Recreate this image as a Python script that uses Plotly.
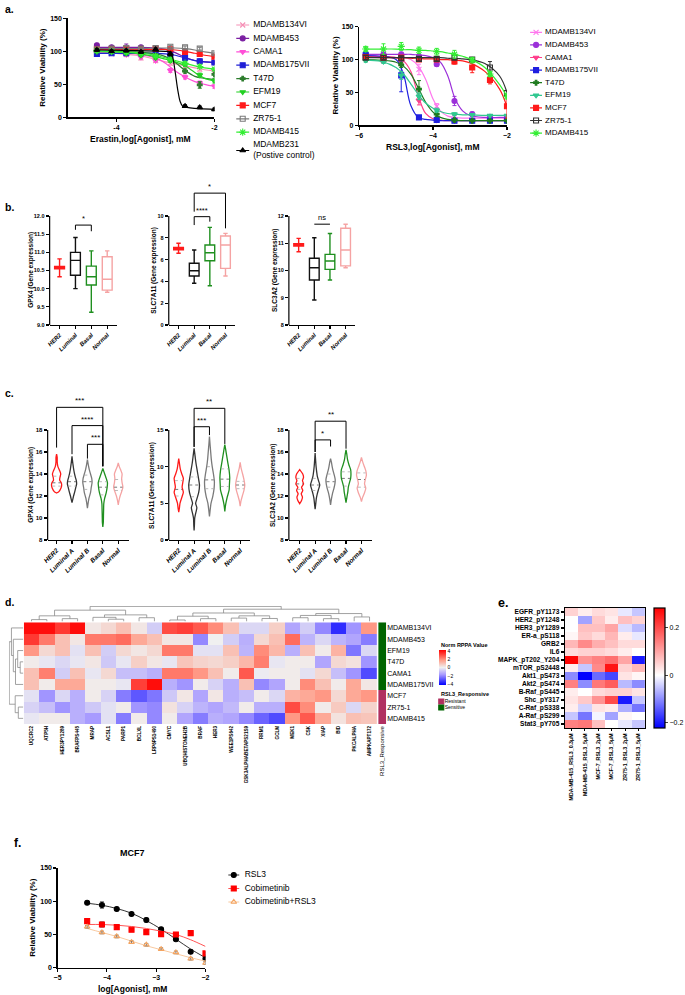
import plotly.graph_objects as go
import numpy as np

# ======================= DATA =======================
# ---- Panel a (left): Erastin ----
ERA_NAMES = ["MDAMB134VI", "MDAMB453", "CAMA1", "MDAMB175VII", "T47D", "EFM19",
             "MCF7", "ZR75-1", "MDAMB415", "MDAMB231"]
ERA_X = [-4.4, -4.1, -3.8, -3.5, -3.2, -2.9, -2.6, -2.3, -2.0]
era_MDAMB134VI = [98, 96, 95, 90, 86, 82, 78, 73, 70]
era_MDAMB453 = [109, 106, 105, 106, 104, 99, 89, 85, 83]
era_CAMA1 = [100, 98, 95, 91, 86, 71, 61, 52, 47]
era_MDAMB175VII = [96, 97, 97, 97, 97, 95, 90, 85, 83]
era_T47D = [100, 100, 98, 96, 93, 88, 70, 49, 65]
era_EFM19 = [100, 99, 97, 94, 90, 86, 80, 64, 55]
era_MCF7 = [103, 103, 104, 103, 104, 103, 99, 96, 92]
era_ZR751 = [103, 104, 105, 104, 105, 107, 106, 104, 97]
era_MDAMB415 = [101, 100, 99, 97, 93, 88, 82, 77, 73]
era_MDAMB231 = [102, 100, 101, 99, 103, 96, 17, 15, 12]
era_err_MDAMB134VI = [3, 2, 2, 3, 2, 3, 3, 3, 3]
era_err_MDAMB453 = [3, 2, 6, 2, 2, 2, 2, 2, 2]
era_err_CAMA1 = [2, 2, 2, 2, 2, 3, 3, 3, 3]
era_err_MDAMB175VII = [2, 2, 2, 2, 2, 2, 2, 2, 2]
era_err_T47D = [2, 2, 2, 2, 2, 3, 3, 5, 6]
era_err_EFM19 = [2, 2, 2, 2, 2, 3, 3, 3, 3]
era_err_MCF7 = [2, 2, 2, 2, 2, 2, 2, 2, 2]
era_err_ZR751 = [2, 2, 2, 2, 2, 2, 2, 2, 2]
era_err_MDAMB415 = [2, 2, 2, 2, 2, 2, 2, 2, 2]
era_err_MDAMB231 = [2, 2, 2, 2, 2, 3, 2, 2, 2]
# fitted curves
ERA_FIT_X = [-4.4, -4.0, -3.6, -3.2, -3.0, -2.8, -2.6, -2.4, -2.2, -2.0]
era_fit_MDAMB134VI = [98, 97, 94, 88, 84, 81, 78, 75, 72, 70]
era_fit_MDAMB453 = [106, 106, 106, 105, 103, 98, 91, 86, 84, 83]
era_fit_CAMA1 = [99, 98, 96, 90, 82, 70, 61, 54, 50, 47]
era_fit_MDAMB175VII = [97, 97, 97, 97, 96, 94, 90, 86, 84, 83]
era_fit_T47D = [100, 100, 99, 96, 92, 83, 71, 62, 59, 57]
era_fit_EFM19 = [100, 99, 97, 92, 88, 84, 78, 68, 59, 55]
era_fit_MCF7 = [103, 103, 103, 103, 103, 102, 100, 97, 94, 92]
era_fit_ZR751 = [104, 104, 104, 105, 105, 105, 104, 102, 99, 97]
era_fit_MDAMB415 = [100, 99, 98, 94, 90, 86, 82, 78, 75, 73]
MDAMB231_FIT_X = [-4.4, -3.6, -3.0, -2.9, -2.85, -2.8, -2.75, -2.7, -2.65, -2.6, -2.3, -2.0]
MDAMB231_FIT_Y = [102, 101, 100, 99, 90, 68, 42, 24, 17, 15.5, 13, 12]

# ---- Panel a (right): RSL3 ----
RSL_NAMES = ["MDAMB134VI", "MDAMB453", "CAMA1", "MDAMB175VII", "T47D", "EFM19",
             "MCF7", "ZR75-1", "MDAMB415"]
RSL_X = [-5.82, -5.34, -4.86, -4.38, -3.9, -3.42, -2.94, -2.46, -2.0]
rsl_MDAMB134VI = [104, 99, 104, 85, 29, 13, 12, 11, 11]
rsl_MDAMB453 = [108, 108, 108, 105, 93, 37, 17, 13, 12]
rsl_CAMA1 = [105, 104, 97, 38, 8, 7, 7, 7, 8]
rsl_MDAMB175VII = [107, 103, 76, 12, 8, 7, 7, 7, 7]
rsl_T47D = [100, 98, 92, 55, 17, 8, 7, 7, 7]
rsl_EFM19 = [99, 97, 76, 44, 23, 17, 16, 15, 15]
rsl_MCF7 = [104, 103, 103, 100, 100, 97, 88, 69, 29]
rsl_ZR751 = [103, 103, 102, 101, 101, 103, 100, 88, 49]
rsl_MDAMB415 = [116, 116, 120, 114, 112, 108, 99, 78, 44]
rsl_err_MDAMB134VI = [3, 4, 5, 8, 4, 2, 2, 1, 1]
rsl_err_MDAMB453 = [3, 3, 3, 3, 3, 7, 3, 2, 2]
rsl_err_CAMA1 = [3, 3, 3, 7, 1, 1, 1, 1, 1]
rsl_err_MDAMB175VII = [5, 4, 25, 2, 1, 1, 1, 1, 1]
rsl_err_T47D = [3, 3, 4, 13, 4, 1, 1, 1, 1]
rsl_err_EFM19 = [3, 3, 6, 5, 3, 2, 1, 1, 1]
rsl_err_MCF7 = [3, 3, 3, 3, 3, 4, 8, 6, 18]
rsl_err_ZR751 = [3, 3, 3, 3, 3, 3, 3, 9, 4]
rsl_err_MDAMB415 = [4, 8, 6, 5, 5, 6, 4, 4, 4]
RSL_FIT_X = [-5.82, -5.4, -5.0, -4.8, -4.6, -4.4, -4.2, -4.0, -3.8, -3.6, -3.4, -3.2, -3.0, -2.6, -2.2, -2.0]
rsl_fit_MDAMB134VI = [104, 104, 103, 103, 100, 90, 70, 40, 22, 14, 12, 11, 11, 11, 11, 11]
rsl_fit_MDAMB453 = [108, 108, 108, 108, 108, 107, 106, 103, 96, 75, 40, 22, 15, 12, 12, 12]
rsl_fit_CAMA1 = [105, 105, 103, 98, 82, 45, 18, 10, 8, 7, 7, 7, 7, 7, 7, 8]
rsl_fit_MDAMB175VII = [106, 105, 100, 78, 30, 12, 9, 8, 7, 7, 7, 7, 7, 7, 7, 7]
rsl_fit_T47D = [100, 99, 96, 90, 78, 57, 35, 20, 12, 9, 8, 7, 7, 7, 7, 7]
rsl_fit_EFM19 = [99, 97, 88, 78, 63, 47, 34, 26, 21, 18, 17, 16, 16, 15, 15, 15]
rsl_fit_MCF7 = [104, 103, 103, 103, 102, 102, 101, 101, 100, 100, 99, 98, 95, 82, 55, 28]
rsl_fit_ZR751 = [103, 103, 103, 103, 103, 103, 103, 103, 103, 102, 102, 101, 100, 94, 75, 50]
rsl_fit_MDAMB415 = [116, 116, 116, 115, 115, 114, 114, 113, 112, 110, 108, 105, 101, 88, 62, 44]

# ---- Panel b: box plots (min, q1, median, q3, max) ----
B_CATS = ["HER2", "Luminal", "Basal", "Normal"]
b_GPX4 = [[10.33, 10.55, 10.58, 10.61, 10.82], [10.0, 10.37, 10.78, 11.0, 11.41],
          [9.35, 10.1, 10.33, 10.62, 11.04], [9.9, 9.96, 10.26, 10.88, 11.04]]
b_SLC7A11 = [[6.58, 6.9, 7.03, 7.12, 7.5], [3.83, 4.5, 4.98, 5.66, 6.88],
             [3.6, 5.9, 6.63, 7.34, 8.96], [4.5, 5.2, 7.34, 8.16, 8.41]]
b_SLC3A2 = [[10.69, 10.9, 10.94, 10.98, 11.18], [8.92, 9.65, 10.1, 10.45, 11.2],
            [9.65, 10.04, 10.35, 10.59, 11.36], [10.1, 10.17, 10.75, 11.55, 11.7]]
# brackets: (left cat, right cat, bar y, left leg end, right leg end, label)
b_GPX4_sig = [(1, 2, 11.75, 11.62, 11.58, "*")]
b_SLC7A11_sig = [(1, 2, 9.94, 9.17, 9.48, "****"), (1, 3, 12.1, 10.4, 8.87, "*")]
b_SLC3A2_sig = [(1, 2, 11.7, 11.7, 11.7, "ns")]

# ---- Panel c: violin outlines (y levels, half-widths in category units) ----
C_CATS = ["HER2", "Luminal A", "Luminal B", "Basal", "Normal"]
c_GPX4_y = [[12.27, 12.4, 12.7, 13.0, 13.2, 13.45, 13.7, 14.0, 14.3, 14.7, 15.1, 15.5, 15.8],
            [11.4, 11.7, 12.0, 12.4, 12.8, 13.1, 13.4, 13.7, 14.1, 14.5, 15.0, 15.6],
            [10.9, 11.3, 11.8, 12.3, 12.8, 13.2, 13.6, 14.0, 14.4, 14.8, 15.3],
            [9.2, 9.6, 10.2, 10.8, 11.3, 11.8, 12.3, 12.8, 13.2, 13.6, 14.0, 14.5],
            [11.2, 11.6, 12.0, 12.4, 12.8, 13.2, 13.6, 14.0, 14.4, 14.7, 15.0]]
c_GPX4_w = [[0, 0.15, 0.28, 0.33, 0.3, 0.2, 0.22, 0.27, 0.2, 0.08, 0.04, 0.04, 0],
            [0, 0.05, 0.1, 0.18, 0.25, 0.3, 0.28, 0.22, 0.15, 0.1, 0.05, 0],
            [0, 0.04, 0.1, 0.2, 0.25, 0.3, 0.28, 0.2, 0.12, 0.06, 0],
            [0, 0.03, 0.04, 0.05, 0.06, 0.12, 0.22, 0.28, 0.3, 0.22, 0.12, 0],
            [0, 0.05, 0.12, 0.22, 0.3, 0.25, 0.22, 0.25, 0.15, 0.06, 0]]
c_GPX4_q = [[12.9, 13.2, 13.8], [12.9, 13.3, 13.8], [12.6, 13.3, 13.9], [12.1, 12.8, 13.3], [12.5, 12.8, 13.5]]
c_SLC7A11_y = [[3.8, 4.3, 5.0, 5.8, 6.5, 7.2, 7.8, 8.4, 9.0, 9.7, 10.4, 11.1],
               [1.3, 2.0, 3.0, 3.8, 4.4, 5.0, 5.6, 6.5, 7.5, 8.5, 9.5, 10.5, 11.5, 12.5],
               [3.2, 4.0, 5.0, 6.0, 7.0, 8.0, 9.0, 10.0, 11.0, 12.0, 13.0, 14.1],
               [3.9, 4.8, 5.8, 6.8, 7.6, 8.5, 9.5, 10.5, 11.5, 12.3, 13.0],
               [4.6, 5.3, 6.0, 6.8, 7.5, 8.2, 9.0, 9.8, 10.6]]
c_SLC7A11_w = [[0, 0.04, 0.08, 0.2, 0.3, 0.22, 0.26, 0.3, 0.2, 0.1, 0.05, 0],
               [0, 0.02, 0.04, 0.12, 0.18, 0.1, 0.18, 0.3, 0.35, 0.28, 0.2, 0.12, 0.06, 0],
               [0, 0.04, 0.1, 0.22, 0.3, 0.32, 0.26, 0.18, 0.12, 0.08, 0.04, 0],
               [0, 0.05, 0.15, 0.28, 0.3, 0.32, 0.28, 0.2, 0.12, 0.06, 0],
               [0, 0.05, 0.14, 0.25, 0.3, 0.25, 0.16, 0.06, 0]]
c_SLC7A11_q = [[6.0, 6.9, 8.1], [5.9, 7.5, 8.6], [7.0, 8.2, 10.0], [7.3, 8.3, 9.7], [7.0, 7.5, 8.0]]
c_SLC3A2_y = [[11.3, 11.6, 11.9, 12.2, 12.5, 12.8, 13.1, 13.4, 13.7, 14.0, 14.4],
              [10.8, 11.3, 11.8, 12.2, 12.6, 13.0, 13.4, 13.8, 14.2, 14.7, 15.3, 15.9],
              [11.2, 11.7, 12.2, 12.7, 13.1, 13.5, 13.9, 14.3, 14.7, 15.1, 15.4],
              [11.4, 11.9, 12.4, 12.8, 13.2, 13.6, 14.0, 14.4, 14.8, 15.3, 15.8, 16.2],
              [11.5, 11.9, 12.3, 12.7, 13.1, 13.5, 13.9, 14.3, 14.7, 15.1, 15.5]]
c_SLC3A2_w = [[0, 0.12, 0.18, 0.1, 0.2, 0.12, 0.25, 0.18, 0.25, 0.2, 0],
              [0, 0.04, 0.08, 0.14, 0.22, 0.3, 0.22, 0.14, 0.1, 0.06, 0.03, 0],
              [0, 0.05, 0.12, 0.22, 0.28, 0.3, 0.24, 0.16, 0.1, 0.05, 0],
              [0, 0.06, 0.12, 0.15, 0.22, 0.3, 0.32, 0.3, 0.2, 0.1, 0.05, 0],
              [0, 0.08, 0.2, 0.28, 0.2, 0.25, 0.32, 0.28, 0.18, 0.08, 0]]
c_SLC3A2_q = [[12.6, 13.1, 13.6], [12.5, 13.0, 13.6], [12.8, 13.3, 14.0], [12.9, 13.6, 14.2], [12.8, 13.5, 14.1]]
c_GPX4_sig = [(0, 3, 20.06, 16.4, 14.7, "***"), (1, 3, 18.4, 15.8, 14.7, "****"), (2, 3, 16.7, 15.4, 14.7, "***")]
c_SLC7A11_sig = [(1, 3, 17.96, 12.7, 13.1, "**"), (1, 2, 15.45, 12.7, 14.3, "***")]
c_SLC3A2_sig = [(1, 3, 18.8, 16.0, 16.3, "**"), (1, 2, 17.1, 16.0, 16.5, "*")]

# ---- Panel d: RPPA heatmap ----
D_COLS = ["UQCRC2", "ATP5H", "HER3PY1289", "BRAFPS445", "MRAP", "ACSL1", "PARP1", "BCLXL",
          "LRP6PS1490", "CMYC", "UBQHISTONEH2B", "BRAF", "HER3", "WEE1PS642",
          "GSK3ALPHABETAPS21S9", "RRM1", "GCLM", "MEK1", "CSK", "XIAP", "BID", "PKCALPHA", "AMPKAPT172"]
D_ROWS = ["MDAMB134VI", "MDAMB453", "EFM19", "T47D", "CAMA1", "MDAMB175VII", "MCF7", "ZR75-1", "MDAMB415"]
d_MDAMB134VI = [4, 4, 3.3, 4, 0.2, 0.5, 1, 0.2, -0.7, 3, 3.2, 2.8, 2, 1, -0.5, -0.5, 0.7, -1.5, -0.7, -2, -3.5, -1.8, 1.8]
d_MDAMB453 = [3.3, 2.3, 1, 0.2, 2.3, 2.3, 2.5, 1.5, 1, 0.2, 0.2, -2, 0, -0.7, -1.3, 0.5, 1, 2.5, -1.2, -0.5, -1.2, -1.5, -2.2]
d_EFM19 = [1.8, 0.5, 1, -0.3, 1, -0.7, 0.5, 0.2, 0.5, 2.3, 2.3, -0.3, -0.3, 1, -1.2, 2, 1.2, -1.3, 1, 0.1, 1.3, -2.3, -0.5]
d_T47D = [0.1, -0.2, -0.5, -0.2, 0.2, -0.8, -0.2, 0.7, 0.2, -0.2, 0.9, 0.6, 0.5, 0.7, 1.2, 2.2, -0.2, 0.1, 0.1, -1.5, 0.5, 0.3, -1.8]
d_CAMA1 = [1, 2.2, -0.7, 1, -0.2, 0.5, -1, -1, -1.3, 2.3, 2.3, 1.8, 1, 0.1, 2.8, -0.1, 0.1, 0.1, -0.3, 0.5, -1, -1.8, -3]
d_MDAMB175VII = [1, 0.1, 1.5, 1.5, 0.1, 0.1, -0.2, 3.2, 4, -1.3, -1.8, 0.1, -0.6, -1.3, 1, -2, -1.5, 0.1, 2, 1, 0.1, 1.5, 0.2]
d_MCF7 = [-0.3, -1.8, -0.5, -1.3, 0.1, -0.6, -2.2, -2.8, -2.3, -0.8, 0.2, -1.5, 0.2, -1.3, -1, 0.1, -0.5, 1.3, 1.5, 1.8, 0.5, 1.5, 1.8]
d_ZR751 = [-0.6, -1, -1.8, -1.3, -0.8, -0.3, 0.1, -1.8, -2, 0.3, -0.6, -1.2, -1.5, -1.1, 0.1, -1.3, -1.3, 3, 2, 0.1, 0.8, -0.5, 0.6]
d_MDAMB415 = [-0.2, 0.1, 0.1, -1.3, -1.7, -0.3, -2.2, 0.1, -2, 0.1, -1.5, -2.2, -1.3, -1.5, -2, -2.6, -3, 1.8, 2.8, 1.5, 0.3, 1, 0.9]
D_RESPONSIVE = ["Sensitive"] * 6 + ["Resistant"] * 3
# hierarchical clustering merges: (child a, child b, height)
D_COL_MERGES = [(0, 1, 1.0), (2, 3, 1.5), (23, 24, 3.0), (5, 6, 1.2), (4, 26, 2.2), (7, 8, 2.0),
                (27, 28, 3.5), (25, 29, 6.0), (9, 10, 0.8), (11, 12, 1.5), (31, 32, 2.8),
                (13, 14, 1.8), (15, 16, 1.6), (34, 35, 3.0), (33, 36, 4.5), (17, 18, 2.0),
                (19, 20, 1.5), (38, 39, 3.2), (21, 22, 2.4), (40, 41, 4.2), (37, 42, 6.5), (30, 43, 8.0)]
D_ROW_MERGES = [(3, 4, 1.0), (2, 9, 1.8), (10, 5, 2.5), (1, 11, 3.2), (0, 12, 3.8),
                (7, 8, 1.6), (6, 14, 2.6), (13, 15, 4.5)]

# ---- Panel e: phospho-protein heatmap ----
E_ROWS = ["EGFR_pY1173", "HER2_pY1248", "HER3_pY1289", "ER-a_pS118", "GRB2", "IL6",
          "MAPK_pT202_Y204", "mTOR_pS2448", "Akt1_pS473", "Akt2_pS474", "B-Raf_pS445",
          "Shc_pY317", "C-Raf_pS338", "A-Raf_pS299", "Stat3_pY705"]
E_COLS = ["MDA-MB-415_RSL3_0.3μM", "MDA-MB-415_RSL3_5μM", "MCF-7_RSL3_2μM",
          "MCF-7_RSL3_5μM", "ZR75-1_RSL3_2μM", "ZR75-1_RSL3_5μM"]
e_EGFR = [0.05, 0.02, 0.04, 0.03, -0.02, -0.05]
e_HER2 = [0.0, -0.08, 0.06, 0.02, 0.07, 0.05]
e_HER3 = [0.0, 0.07, 0.07, 0.1, -0.03, -0.06]
e_ERa = [0.01, 0.06, 0.04, 0.08, 0.02, -0.02]
e_GRB2 = [0.08, 0.13, 0.09, 0.07, 0.04, 0.04]
e_IL6 = [0.04, 0.05, 0.05, 0.04, 0.02, 0.0]
e_MAPK = [0.28, 0.12, 0.14, 0.16, 0.1, -0.2]
e_mTOR = [0.02, -0.05, 0.13, 0.26, 0.05, 0.08]
e_Akt1 = [-0.1, -0.22, -0.13, -0.16, 0.03, 0.01]
e_Akt2 = [0.14, -0.1, 0.15, 0.18, -0.06, -0.1]
e_BRaf = [0.02, 0.0, 0.04, 0.05, 0.05, 0.03]
e_Shc = [0.03, 0.06, 0.12, 0.2, -0.2, -0.05]
e_CRaf = [0.02, -0.04, 0.03, 0.02, -0.07, -0.12]
e_ARaf = [-0.05, -0.12, -0.01, -0.08, 0.01, 0.0]
e_Stat3 = [0.14, 0.15, 0.07, 0.0, -0.02, -0.05]

# ---- Panel f: MCF7 ----
F_NAMES = ["RSL3", "Cobimetinib", "Cobimetinib+RSL3"]
F_X = [-4.4, -4.1, -3.8, -3.5, -3.2, -2.9, -2.6, -2.3, -2.0]
f_RSL3 = [97.7, 94.3, 88.3, 80.8, 71.8, 57.7, 42.7, 24, 13.5]
f_Cobi = [70, 65, 61, 57, 53.5, 50.5, 50, 52, 21.5]
f_Combo = [61.5, 53, 47, 38.5, 34.5, 28, 23, 13.5, 7]
f_err_RSL3 = [2, 5, 2, 2, 3, 2, 2, 2, 2]
f_err_Cobi = [2, 4, 3, 2, 2, 3, 3, 2, 2]
f_err_Combo = [2, 2, 2, 2, 2, 2, 2, 2, 2]
f_fit_RSL3 = [97, 94, 89, 82, 71, 58, 43, 28, 15]
f_fit_Cobi = [65, 65, 64, 62, 59, 55, 50, 42, 32]
f_fit_Combo = [59, 53, 47, 40, 33, 27, 21, 15, 10]

# ======================= FIGURE =======================
W, H = 685, 995
FONT = "Liberation Sans, Arial, sans-serif"


def PX(x):
    return x / W


def PY(y):
    return 1 - y / H


fig = go.Figure()
L = dict(width=W, height=H, margin=dict(l=0, r=0, t=0, b=0, pad=0), template="none",
         paper_bgcolor="white", plot_bgcolor="rgba(0,0,0,0)", showlegend=False,
         font=dict(family=FONT, color="black", size=8))
annotations = []
shapes = []
axn = [0]


def F(size, bold=True, italic=False, color="black"):
    return dict(family=FONT, size=size, color=color, weight="bold" if bold else "normal",
                style="italic" if italic else "normal")


def new_axes(xpx, ypx, xkw, ykw):
    axn[0] += 1
    n = axn[0]
    s = "" if n == 1 else str(n)
    L["xaxis" + s] = dict(domain=[PX(xpx[0]), PX(xpx[1])], anchor="y" + s, **xkw)
    L["yaxis" + s] = dict(domain=[PY(ypx[1]), PY(ypx[0])], anchor="x" + s, **ykw)
    return "x" + s, "y" + s


def axstyle(size=7, **kw):
    d = dict(showline=True, linecolor="black", linewidth=1.2, ticks="outside", ticklen=3,
             tickwidth=1.1, tickcolor="black", showgrid=False, zeroline=False,
             tickfont=F(size), fixedrange=True)
    d.update(kw)
    return d


def hidden(**kw):
    d = dict(visible=False, showgrid=False, zeroline=False, fixedrange=True)
    d.update(kw)
    return d


def ann(text, x, y, size, bold=True, xanchor="center", yanchor="middle", angle=0,
        italic=False, xref="paper", yref="paper", color="black"):
    if xref == "paper":
        x = PX(x)
    if yref == "paper":
        y = PY(y)
    annotations.append(dict(text=text, x=x, y=y, xref=xref, yref=yref, showarrow=False,
                            xanchor=xanchor, yanchor=yanchor, textangle=angle,
                            font=F(size, bold, italic, color)))


def mk(symbol, color, size=5):
    return dict(symbol=symbol, color=color, size=size, line=dict(color=color, width=1.1))


def legend_block(box, labels, ys, styles, lx, mx, tx, size):
    xa, ya = new_axes((box[0], box[1]), (box[2], box[3]),
                      hidden(range=[box[0], box[1]]), hidden(range=[box[3], box[2]]))
    for lab, yy, (col, sym, lcol, msz) in zip(labels, ys, styles):
        fig.add_trace(go.Scatter(x=[lx[0], lx[1]], y=[yy, yy], mode="lines",
                                 line=dict(color=lcol, width=1.2), xaxis=xa, yaxis=ya,
                                 hoverinfo="skip"))
        fig.add_trace(go.Scatter(x=[mx], y=[yy], mode="markers", marker=mk(sym, col, msz),
                                 xaxis=xa, yaxis=ya, hoverinfo="skip"))
        fig.add_trace(go.Scatter(x=[tx], y=[yy], mode="text", text=[lab],
                                 textposition="middle right", textfont=F(size, False),
                                 cliponaxis=False, xaxis=xa, yaxis=ya, hoverinfo="skip"))


# ---------------- Panel a ----------------
ann("a.", 3, 9, 10.5, xanchor="left")

ERA_STYLE = {
    "MDAMB134VI": ("#f58fb5", "x-thin", 5), "MDAMB453": ("#7b1fa2", "circle", 5),
    "CAMA1": ("#ff4fd8", "triangle-down", 5), "MDAMB175VII": ("#1f1fd6", "square", 5),
    "T47D": ("#2e7d2e", "cross", 4), "EFM19": ("#22d022", "triangle-down", 5),
    "MCF7": ("#ff1a1a", "square", 5), "ZR75-1": ("#7a7a7a", "square-open", 5),
    "MDAMB415": ("#33ee33", "asterisk", 6), "MDAMB231": ("#000000", "triangle-up", 5)}
era_points = [era_MDAMB134VI, era_MDAMB453, era_CAMA1, era_MDAMB175VII, era_T47D, era_EFM19,
              era_MCF7, era_ZR751, era_MDAMB415, era_MDAMB231]
era_errs = [era_err_MDAMB134VI, era_err_MDAMB453, era_err_CAMA1, era_err_MDAMB175VII, era_err_T47D,
            era_err_EFM19, era_err_MCF7, era_err_ZR751, era_err_MDAMB415, era_err_MDAMB231]
era_fits = [(ERA_FIT_X, era_fit_MDAMB134VI), (ERA_FIT_X, era_fit_MDAMB453), (ERA_FIT_X, era_fit_CAMA1),
            (ERA_FIT_X, era_fit_MDAMB175VII), (ERA_FIT_X, era_fit_T47D), (ERA_FIT_X, era_fit_EFM19),
            (ERA_FIT_X, era_fit_MCF7), (ERA_FIT_X, era_fit_ZR751), (ERA_FIT_X, era_fit_MDAMB415),
            (MDAMB231_FIT_X, MDAMB231_FIT_Y)]

xa, ya = new_axes((68, 216), (18.3, 117.3),
                  axstyle(range=[-5, -2], tickvals=[-4, -2], ticktext=["-4", "-2"]),
                  axstyle(range=[0, 150], tickvals=[0, 50, 100, 150]))
for name, pts, err, (fx, fy) in zip(ERA_NAMES, era_points, era_errs, era_fits):
    col, sym, sz = ERA_STYLE[name]
    fig.add_trace(go.Scatter(x=fx, y=fy, mode="lines", line=dict(color=col, width=1.2, shape="spline"),
                             xaxis=xa, yaxis=ya, hoverinfo="skip"))
    fig.add_trace(go.Scatter(x=ERA_X, y=pts, mode="markers", marker=mk(sym, col, sz),
                             error_y=dict(type="data", array=err, color=col, thickness=1, width=2),
                             xaxis=xa, yaxis=ya, name=name))
ann("Relative Viability (%)", 42, 68, 8, angle=-90)
ann("Erastin,log[Agonist], mM", 142, 139, 8.5)

era_leg_labels = ERA_NAMES[:-1] + ["MDAMB231<br>(Postive control)"]
era_leg_y = [25, 38.4, 51.8, 65.2, 78.6, 92, 105.4, 118.8, 132.2, 150.5]
legend_block((230, 340, 15, 165), era_leg_labels, era_leg_y,
             [(ERA_STYLE[n][0], ERA_STYLE[n][1], ERA_STYLE[n][0], ERA_STYLE[n][2]) for n in ERA_NAMES],
             (238, 251), 244.5, 255, 8.5)

RSL_STYLE = {
    "MDAMB134VI": ("#ff77ee", "x-thin", 5), "MDAMB453": ("#9b30d9", "circle", 5),
    "CAMA1": ("#ff3d8b", "triangle-down", 5), "MDAMB175VII": ("#1f1fe0", "square", 5),
    "T47D": ("#1e7a1e", "cross", 4), "EFM19": ("#30c890", "triangle-down", 5),
    "MCF7": ("#ff1a1a", "square", 5), "ZR75-1": ("#333333", "square-open", 5),
    "MDAMB415": ("#33ee33", "asterisk", 6)}
rsl_points = [rsl_MDAMB134VI, rsl_MDAMB453, rsl_CAMA1, rsl_MDAMB175VII, rsl_T47D, rsl_EFM19,
              rsl_MCF7, rsl_ZR751, rsl_MDAMB415]
rsl_errs = [rsl_err_MDAMB134VI, rsl_err_MDAMB453, rsl_err_CAMA1, rsl_err_MDAMB175VII, rsl_err_T47D,
            rsl_err_EFM19, rsl_err_MCF7, rsl_err_ZR751, rsl_err_MDAMB415]
rsl_fits = [rsl_fit_MDAMB134VI, rsl_fit_MDAMB453, rsl_fit_CAMA1, rsl_fit_MDAMB175VII, rsl_fit_T47D,
            rsl_fit_EFM19, rsl_fit_MCF7, rsl_fit_ZR751, rsl_fit_MDAMB415]
xa, ya = new_axes((361.7, 510.7), (26.7, 125.3),
                  axstyle(range=[-6, -2], tickvals=[-6, -4, -2]),
                  axstyle(range=[0, 150], tickvals=[0, 50, 100, 150]))
for name, pts, err, fy in zip(RSL_NAMES, rsl_points, rsl_errs, rsl_fits):
    col, sym, sz = RSL_STYLE[name]
    fig.add_trace(go.Scatter(x=RSL_FIT_X, y=fy, mode="lines", line=dict(color=col, width=1.2, shape="spline"),
                             xaxis=xa, yaxis=ya, hoverinfo="skip"))
    fig.add_trace(go.Scatter(x=RSL_X, y=pts, mode="markers", marker=mk(sym, col, sz),
                             error_y=dict(type="data", array=err, color=col, thickness=1, width=2),
                             xaxis=xa, yaxis=ya, name=name))
ann("Relative Viability (%)", 337, 76, 8, angle=-90)
ann("RSL3,log[Agonist], mM", 436, 147, 8.5)
legend_block((530, 685, 25, 142), RSL_NAMES, [32.3, 44.9, 57.5, 70.1, 82.7, 95.3, 107.9, 120.5, 133.1],
             [(RSL_STYLE[n][0], RSL_STYLE[n][1], RSL_STYLE[n][0], RSL_STYLE[n][2]) for n in RSL_NAMES],
             (534, 546), 540, 549, 8)

# ---------------- Panel b ----------------
ann("b.", 3, 207, 10.5, xanchor="left")
BOX_COLORS = ["#ff1a1a", "#111111", "#1f8f1f", "#f5a3a3"]


def bracket(xa, ya, sig, fs):
    for (c0, c1, yb, yl, yr, lab) in sig:
        fig.add_trace(go.Scatter(x=[c0, c0, c1, c1], y=[yl, yb, yb, yr], mode="lines",
                                 line=dict(color="black", width=1), xaxis=xa, yaxis=ya, hoverinfo="skip"))
        ann(lab, (c0 + c1) / 2, yb, fs, bold=False, yanchor="bottom", xref=xa, yref=ya)


def yline(xa, ya, y0, y1):
    shapes.append(dict(type="line", xref=xa + " domain", yref=ya, x0=0, x1=0, y0=y0, y1=y1,
                       line=dict(color="black", width=1.2)))


b_panels = [
    ((50, 118), (216, 325), [9, 12], [9, 9.5, 10, 10.5, 11, 11.5, 12], ".1f", b_GPX4, b_GPX4_sig,
     "GPX4 (Gene expression)", 31),
    ((170, 237), (185.5, 325), [0, 12.8], [0, 2, 4, 6, 8, 10], "", b_SLC7A11, b_SLC7A11_sig,
     "SLC7A11 (Gene expression)", 155),
    ((291, 358), (216, 325), [8, 12], [8, 9, 10, 11, 12], "", b_SLC3A2, b_SLC3A2_sig,
     "SLC3A2 (Gene expression)", 277),
]
for xpx, ypx, yr, tv, fmt, stats, sig, title, tx in b_panels:
    xa, ya = new_axes(xpx, ypx,
                      axstyle(size=6, range=[-0.625, 3.625], tickvals=[0, 1, 2, 3], ticktext=B_CATS,
                              tickangle=-45, tickfont=F(6, True, True)),
                      axstyle(size=5.5, range=yr, tickvals=tv, tickformat=fmt, showline=False))
    yline(xa, ya, tv[0], tv[-1])
    for i, (st, col) in enumerate(zip(stats, BOX_COLORS)):
        fig.add_trace(go.Box(x=[i], lowerfence=[st[0]], q1=[st[1]], median=[st[2]], q3=[st[3]],
                             upperfence=[st[4]], width=0.62, whiskerwidth=0.45, fillcolor="white",
                             line=dict(color=col, width=1.4), boxpoints=False, orientation="v",
                             xaxis=xa, yaxis=ya, hoverinfo="skip"))
    bracket(xa, ya, sig, 7.5)
    ann(title, tx, 270, 6.5, angle=-90)

# ---------------- Panel c ----------------
ann("c.", 3, 393, 10.5, xanchor="left")
VIO_COLORS = ["#ff1a1a", "#333333", "#7a7a7a", "#1f8f1f", "#f5a3a3"]
c_panels = [
    ((48, 130), (397, 540), [-0.58, 4.7], [8, 21], [8, 10, 12, 14, 16, 18], c_GPX4_y, c_GPX4_w, c_GPX4_q,
     c_GPX4_sig, "GPX4 (Gene expression)", 31),
    ((170, 252), (400.7, 540), [-0.65, 4.65], [0, 19], [0, 5, 10, 15], c_SLC7A11_y, c_SLC7A11_w,
     c_SLC7A11_q, c_SLC7A11_sig, "SLC7A11 (Gene expression)", 153),
    ((291, 375), (410.2, 540), [-0.7, 4.7], [8, 19.8], [8, 10, 12, 14, 16, 18], c_SLC3A2_y, c_SLC3A2_w,
     c_SLC3A2_q, c_SLC3A2_sig, "SLC3A2 (Gene expression)", 275),
]
for xpx, ypx, xr, yr, tv, vy, vw, vq, sig, title, tx in c_panels:
    xa, ya = new_axes(xpx, ypx,
                      axstyle(size=6.5, range=xr, tickvals=[0, 1, 2, 3, 4], ticktext=C_CATS,
                              tickangle=-45, tickfont=F(6.5, True, True)),
                      axstyle(size=6, range=yr, tickvals=tv, showline=False))
    yline(xa, ya, tv[0], tv[-1])
    for i, (ys, ws, qs, col) in enumerate(zip(vy, vw, vq, VIO_COLORS)):
        xs = [i - w for w in ws] + [i + w for w in reversed(ws)]
        yy = list(ys) + list(reversed(ys))
        fig.add_trace(go.Scatter(x=xs + [xs[0]], y=yy + [yy[0]], mode="lines", fill="toself",
                                 fillcolor="white", line=dict(color=col, width=1.3, shape="spline", smoothing=0.6),
                                 xaxis=xa, yaxis=ya, hoverinfo="skip"))
        for k, q in enumerate(qs):
            w = float(np.interp(q, ys, ws)) * 0.9
            fig.add_trace(go.Scatter(x=[i - w, i + w], y=[q, q], mode="lines",
                                     line=dict(color="#555555" if k == 1 else "#aaaaaa", width=0.8, dash="dot"),
                                     xaxis=xa, yaxis=ya, hoverinfo="skip"))
    bracket(xa, ya, sig, 8)
    ann(title, tx, 485, 6.5, angle=-90)

# ---------------- Panel d ----------------
ann("d.", 3, 602, 10.5, xanchor="left")
D_Z = [d_MDAMB134VI, d_MDAMB453, d_EFM19, d_T47D, d_CAMA1, d_MDAMB175VII, d_MCF7, d_ZR751, d_MDAMB415]
D_SCALE = [[0, "#0000ff"], [0.3, "#a99cff"], [0.5, "#f0f0f0"], [0.7, "#ffa08c"], [1, "#ff0000"]]
xa, ya = new_axes((24, 380), (622.3, 724),
                  dict(range=[-0.5, 22.5], tickvals=list(range(23)), ticktext=D_COLS, tickangle=-90,
                       tickfont=F(4.6), ticks="", showline=False, showgrid=False, zeroline=False, fixedrange=True),
                  dict(range=[8.5, -0.5], showticklabels=False, ticks="", showline=False, showgrid=False,
                       zeroline=False, fixedrange=True))
fig.add_trace(go.Heatmap(z=D_Z, x=list(range(23)), y=list(range(9)), colorscale=D_SCALE, zmin=-4.2, zmax=4.2,
                         xaxis=xa, yaxis=ya, hoverinfo="skip",
                         colorbar=dict(x=PX(442), xanchor="left", y=PY(685), yanchor="bottom", len=35,
                                       lenmode="pixels", thickness=7, thicknessmode="pixels", outlinewidth=0,
                                       tickvals=[-4, -2, 0, 2, 4], ticks="", tickfont=F(5, False),
                                       xpad=0, ypad=0)))
ann("Norm RPPA Value", 442, 645, 5.5, xanchor="left")

# responsiveness annotation bar
resp_code = [[1 if r == "Sensitive" else 0] for r in D_RESPONSIVE]
xa, ya = new_axes((381, 389), (622.3, 724),
                  dict(range=[-0.5, 0.5], tickvals=[0], ticktext=["RSL3_Responsive"], tickangle=-90,
                       tickfont=F(6, False), ticks="", showline=False, showgrid=False, zeroline=False,
                       fixedrange=True),
                  dict(range=[8.5, -0.5], tickvals=list(range(9)), ticktext=D_ROWS, side="right",
                       tickfont=F(7, False), ticks="", showline=False, showgrid=False, zeroline=False,
                       fixedrange=True))
fig.add_trace(go.Heatmap(z=resp_code, x=[0], y=list(range(9)), colorscale=[[0, "#b03060"], [1, "#006400"]],
                         zmin=0, zmax=1, showscale=False, xaxis=xa, yaxis=ya, hoverinfo="skip"))


def dendro(n, merges):
    pos = {i: float(i) for i in range(n)}
    hgt = {i: 0.0 for i in range(n)}
    A, Hh = [], []
    for k, (a, b, h) in enumerate(merges):
        A += [pos[a], pos[a], pos[b], pos[b], None]
        Hh += [hgt[a], h, h, hgt[b], None]
        pos[n + k] = (pos[a] + pos[b]) / 2
        hgt[n + k] = h
    return A, Hh


ca, ch = dendro(len(D_COLS), D_COL_MERGES)
xa, ya = new_axes((24, 380), (606, 621.5), hidden(range=[-0.5, 22.5]), hidden(range=[0, 8.2]))
fig.add_trace(go.Scatter(x=ca, y=ch, mode="lines", line=dict(color="#8a8a8a", width=0.8),
                         xaxis=xa, yaxis=ya, hoverinfo="skip"))
ra, rh = dendro(len(D_ROWS), D_ROW_MERGES)
xa, ya = new_axes((9, 23.5), (622.3, 724), hidden(range=[4.6, 0]), hidden(range=[8.5, -0.5]))
fig.add_trace(go.Scatter(x=rh, y=ra, mode="lines", line=dict(color="#8a8a8a", width=0.8),
                         xaxis=xa, yaxis=ya, hoverinfo="skip"))

# responsiveness legend
ann("RSL3_Responsive", 442, 694, 5.5, xanchor="left")
legend_block((440, 500, 697, 712), ["Resistant", "Sensitive"], [701.5, 707.5],
             [("#b03060", "square", "rgba(0,0,0,0)", 5), ("#006400", "square", "rgba(0,0,0,0)", 5)],
             (444, 445), 444.5, 448, 5)

# ---------------- Panel e ----------------
ann("e.", 500, 603, 12.5, xanchor="left")
E_Z = [e_EGFR, e_HER2, e_HER3, e_ERa, e_GRB2, e_IL6, e_MAPK, e_mTOR, e_Akt1, e_Akt2, e_BRaf, e_Shc,
       e_CRaf, e_ARaf, e_Stat3]
E_MIN, E_MAX = -0.222, 0.283
xa, ya = new_axes((569, 650), (608, 728),
                  axstyle(size=5.3, range=[-0.5, 5.5], tickvals=list(range(6)), ticktext=E_COLS,
                          tickangle=-90, mirror=True, linewidth=1.2, ticklen=2),
                  axstyle(size=6.6, range=[14.5, -0.5], tickvals=list(range(15)), ticktext=E_ROWS,
                          mirror=True, linewidth=1.2, ticklen=3))
fig.add_trace(go.Heatmap(z=E_Z, x=list(range(6)), y=list(range(15)),
                         colorscale=[[0, "#0000ff"], [(0 - E_MIN) / (E_MAX - E_MIN), "#ffffff"], [1, "#ff0000"]],
                         zmin=E_MIN, zmax=E_MAX, xaxis=xa, yaxis=ya, hoverinfo="skip",
                         colorbar=dict(x=PX(659), xanchor="left", y=PY(728), yanchor="bottom", len=120,
                                       lenmode="pixels", thickness=11, thicknessmode="pixels",
                                       outlinewidth=1.2, outlinecolor="black", ticks="outside", ticklen=3,
                                       tickvals=[-0.2, 0, 0.2], tickfont=F(7, False), xpad=0, ypad=0)))

# ---------------- Panel f ----------------
ann("f.", 12, 843, 12, xanchor="left")
ann("MCF7", 133, 853, 9)
F_STYLE = [("#000000", "circle", "#333333", 5), ("#ff0000", "square", "#ff5555", 5),
           ("#f4a460", "triangle-up-open", "#f8c9a0", 5)]
xa, ya = new_axes((58, 207), (868, 967.7),
                  axstyle(range=[-5, -2], tickvals=[-5, -4, -3, -2]),
                  axstyle(range=[0, 150], tickvals=[0, 50, 100, 150]))
for pts, err, fit, (col, sym, lcol, sz), name in zip([f_RSL3, f_Cobi, f_Combo], [f_err_RSL3, f_err_Cobi, f_err_Combo],
                                                    [f_fit_RSL3, f_fit_Cobi, f_fit_Combo], F_STYLE, F_NAMES):
    fig.add_trace(go.Scatter(x=F_X, y=fit, mode="lines", line=dict(color=lcol, width=1, shape="spline"),
                             xaxis=xa, yaxis=ya, hoverinfo="skip"))
    fig.add_trace(go.Scatter(x=F_X, y=pts, mode="markers", marker=mk(sym, col, sz),
                             error_y=dict(type="data", array=err, color="#777777", thickness=1, width=2),
                             xaxis=xa, yaxis=ya, name=name))
ann("Relative Viability (%)", 32, 918, 8, angle=-90)
ann("log[Agonist], mM", 133, 989, 8.5)
legend_block((225, 340, 868, 910), F_NAMES, [875, 888.5, 902],
             [(c, s, lc, sz) for (c, s, lc, sz) in F_STYLE], (230, 241), 235.5, 246.5, 8.5)

L["annotations"] = annotations
L["shapes"] = shapes
fig.update_layout(**L)
fig.write_html("out.html", config={"displayModeBar": False, "staticPlot": True},
               post_script="document.body.style.margin='0';document.body.style.padding='0';"
                           "document.body.style.overflow='hidden';")
